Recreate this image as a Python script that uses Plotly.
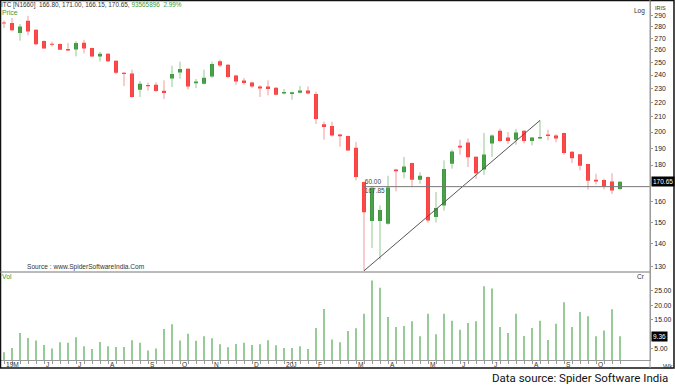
import math
import plotly.graph_objects as go

# ---------------- data (weekly candles, ITC, May-2019 .. Oct-2020) ----------------
opens = [283.9, 283.4, 274.5, 285.5, 277.4, 267.5, 265.3, 265.0, 260.8, 260.4,
         266.1, 261.6, 254.7, 256.9, 251.2, 241.7, 241.2, 229.0, 232.5, 232.7,
         228.3, 237.4, 242.0, 244.9, 233.7, 233.4, 238.9, 250.7, 248.0, 239.6,
         235.9, 234.4, 231.4, 231.4, 230.4, 226.3, 225.9, 226.8, 228.5, 225.9,
         205.0, 203.9, 198.5, 197.5, 190.2, 170.5, 150.5, 150.5, 149.2, 177.4,
         175.9, 181.2, 171.8, 173.3, 152.5, 158.2, 180.8, 191.5, 193.4, 184.9,
         177.4, 192.9, 200.8, 196.5, 195.2, 200.8, 194.4, 195.9, 198.5, 197.9,
         199.4, 187.8, 186.3, 180.6, 171.8, 171.6, 170.8, 166.80]
highs = [285.7, 287.9, 282.5, 290.0, 278.0, 268.1, 266.9, 265.5, 265.8, 267.5,
         268.6, 261.9, 258.5, 257.5, 251.5, 242.0, 244.1, 235.4, 234.2, 234.4,
         235.9, 247.2, 250.4, 245.1, 237.0, 244.1, 250.4, 252.0, 248.6, 240.2,
         237.7, 235.0, 232.2, 235.9, 230.7, 229.5, 227.4, 231.7, 231.4, 227.6,
         206.8, 206.8, 198.9, 197.7, 193.8, 170.7, 168.1, 158.2, 174.0, 177.8,
         184.7, 181.4, 175.9, 173.6, 165.2, 182.7, 189.1, 195.2, 196.0, 185.1,
         199.4, 198.5, 202.2, 200.0, 202.0, 201.0, 196.9, 207.6, 201.4, 198.7,
         199.6, 188.2, 186.5, 180.7, 175.0, 172.3, 175.3, 171.00]
lows = [278.9, 275.9, 267.8, 272.4, 263.9, 260.8, 263.0, 259.9, 259.1, 254.7,
        257.2, 254.5, 250.7, 250.2, 240.7, 231.7, 223.2, 223.7, 228.3, 227.4,
        222.3, 231.0, 237.2, 229.2, 230.2, 232.7, 237.7, 246.2, 237.7, 232.7,
        232.7, 230.4, 223.7, 224.9, 224.9, 225.6, 221.8, 226.3, 225.6, 205.2,
        195.2, 197.1, 190.9, 188.3, 171.4, 128.4, 138.1, 133.1, 148.8, 165.5,
        172.5, 168.0, 169.6, 149.8, 149.8, 155.6, 177.9, 186.1, 178.9, 172.2,
        174.4, 184.7, 193.8, 192.6, 192.1, 192.9, 191.7, 195.9, 194.8, 193.6,
        186.1, 181.2, 177.0, 166.4, 169.2, 166.5, 164.1, 166.15]
closes = [283.0, 276.8, 280.3, 275.9, 264.7, 261.3, 264.4, 260.2, 259.6, 265.8,
          261.3, 254.7, 256.9, 250.7, 241.7, 240.7, 223.7, 233.4, 231.5, 228.1,
          226.6, 240.7, 244.6, 231.4, 235.0, 237.9, 248.6, 247.5, 238.4, 235.1,
          234.0, 231.4, 229.9, 229.5, 225.4, 227.4, 227.1, 228.5, 226.3, 208.5,
          203.3, 197.9, 197.3, 188.5, 173.3, 154.8, 167.4, 155.9, 167.6, 176.4,
          179.2, 171.8, 173.9, 150.8, 156.9, 177.8, 188.0, 190.4, 184.5, 175.3,
          186.1, 197.9, 194.4, 194.4, 199.8, 194.4, 196.5, 196.9, 197.5, 195.9,
          187.1, 183.9, 179.6, 171.2, 170.8, 168.1, 166.0, 170.65]
# volume in crore shares
volumes = [3.86, 5.34, 10.5, 8.8, 7.9, 6.4, 5.2, 7.3, 7.1, 9.0,
           5.9, 5.0, 7.4, 5.9, 5.7, 5.7, 8.0, 7.1, 4.5, 5.2,
           11.9, 13.5, 7.9, 10.2, 7.8, 9.4, 8.7, 6.6, 5.6, 6.7,
           7.1, 6.4, 6.6, 8.0, 6.3, 5.3, 5.3, 5.9, 5.0, 12.2,
           18.8, 8.3, 7.3, 11.2, 12.1, 17.1, 28.6, 26.1, 16.0, 12.6,
           12.9, 14.5, 9.4, 17.1, 10.1, 17.1, 14.7, 11.6, 13.9, 14.5,
           26.6, 25.8, 12.6, 10.5, 17.1, 9.5, 12.2, 14.7, 8.1, 13.7,
           21.1, 12.6, 17.7, 16.3, 9.4, 11.4, 18.7, 9.36]

month_labels = ["19M", "J", "J", "A", "S", "O", "N", "D", "20J", "F",
                "M", "A", "M", "J", "J", "A", "S", "O"]
month_bars = [0, 5, 9, 13, 18, 22, 26, 31, 35, 39, 44, 48, 53, 57, 61, 66, 70, 74]

price_ticks = [130, 140, 150, 160, 180, 190, 200, 210, 220, 230, 240, 250, 260, 270, 280, 290]
vol_ticks = [5, 15, 20, 25]

trend_from, trend_to = 45, 67       # trendline: low of bar 45 -> high of bar 67
hline_level, hline_from = 168.0, 44.9
line_labels = ["60.00", "167.85"]
line_label_prices = [170.5, 165.7]
header_volume = "93565896"
header_change = "2.99%"

# ---------------- geometry helpers (plot area 650 x 360 px) ----------------
PW, PH = 650.0, 360.0
def px(xp):
    return xp / PW
def py(yp):
    return (PH - yp) / PH

RED = "#FF0000"
GREEN = "#007A00"
RED_WICK = "#EE9A9A"
GREEN_WICK = "#93C893"
VOL_C = "#96CA96"
FONT = "Liberation Sans, Arial"

n = len(opens)
idx = list(range(n))

fig = go.Figure()

# volume
fig.add_trace(go.Bar(x=idx, y=volumes, width=0.2, marker=dict(color=VOL_C, line=dict(width=0)),
                     xaxis="x", yaxis="y2", hoverinfo="skip"))

# labels beneath candles
fig.add_trace(go.Scatter(x=[hline_from + 0.2, hline_from + 0.2], y=line_label_prices, mode="text",
                         text=line_labels, textposition="middle right",
                         textfont=dict(size=6.5, color="#444", family=FONT),
                         xaxis="x", yaxis="y", hoverinfo="skip"))

# wicks
for up, col in ((False, RED_WICK), (True, GREEN_WICK)):
    xs, ys = [], []
    for i in idx:
        if (closes[i] >= opens[i]) == up:
            xs += [i, i, None]
            ys += [lows[i], highs[i], None]
    fig.add_trace(go.Scatter(x=xs, y=ys, mode="lines", line=dict(color=col, width=1),
                             xaxis="x", yaxis="y", hoverinfo="skip"))

# candle bodies
fig.add_trace(go.Candlestick(x=idx, open=opens, high=highs, low=lows, close=closes,
                             increasing=dict(line=dict(color=GREEN, width=0), fillcolor=GREEN),
                             decreasing=dict(line=dict(color=RED, width=0), fillcolor=RED),
                             whiskerwidth=0, xaxis="x", yaxis="y", hoverinfo="skip"))

# trendline and horizontal line
fig.add_trace(go.Scatter(x=[trend_from, trend_to], y=[lows[trend_from], highs[trend_to]],
                         mode="lines", line=dict(color="#555", width=1), xaxis="x", yaxis="y",
                         hoverinfo="skip"))
fig.add_trace(go.Scatter(x=[hline_from, 80.75], y=[hline_level, hline_level],
                         mode="lines", line=dict(color="#777", width=1), xaxis="x", yaxis="y",
                         hoverinfo="skip"))

ann = []
def txt(x, y, s, size=7.5, color="#222", xanchor="left", family=FONT, **kw):
    ann.append(dict(xref="paper", yref="paper", x=px(x), y=py(y), text=s, showarrow=False,
                    xanchor=xanchor, yanchor="middle", font=dict(size=size, color=color, family=family), **kw))

header = ("ITC [N1660]  %.2f, %.2f, %.2f, %.2f, <span style='color:#3C9A3C'>%s  %s</span>"
          % (opens[-1], highs[-1], lows[-1], closes[-1], header_volume, header_change))
txt(-1, 5, header, size=6.4, color="#333")
txt(0, 13, "Price", size=6.8, color="#3C9A3C")
txt(25, 267, "Source : www.SpiderSoftwareIndia.Com", size=6.6, color="#333")
txt(0, 276, "Vol", size=6.8, color="#3C9A3C")
txt(647, 276, "Cr", size=6.5, color="#333", xanchor="right")
txt(647, 11, "Log", size=6.5, color="#333", xanchor="right")
txt(653, 8, "IRIS", size=5.5, color="#333")
txt(661, 366, "Wk", size=6.5, color="#333")
txt(670, 378, "Data source: Spider Software India", size=11.5, color="#111", xanchor="right",
    family="Roboto, Arial")

for lab, b in zip(month_labels, month_bars):
    ann.append(dict(xref="x", yref="paper", x=b, y=py(364.3), text=lab, showarrow=False,
                    xanchor="left", yanchor="middle", font=dict(size=6.6, color="#333", family=FONT)))

# last value boxes
ann.append(dict(xref="paper", yref="y", x=px(650.5), y=math.log10(closes[-1]),
                text="%.2f" % closes[-1], showarrow=False, xanchor="left", yanchor="middle",
                bgcolor="#000", borderpad=1, font=dict(size=6.5, color="#fff", family=FONT)))
ann.append(dict(xref="paper", yref="y2", x=px(650.5), y=volumes[-1],
                text="%.2f" % volumes[-1], showarrow=False, xanchor="left", yanchor="middle",
                bgcolor="#000", borderpad=1, font=dict(size=6.5, color="#fff", family=FONT)))

shapes = [
    dict(type="rect", xref="paper", yref="paper", x0=px(0.5), x1=px(674), y0=py(0.5), y1=py(368),
         line=dict(color="#111", width=1.5), fillcolor="rgba(0,0,0,0)", layer="above"),
    dict(type="line", xref="paper", yref="paper", x0=px(0), x1=px(650), y0=py(272), y1=py(272),
         line=dict(color="#777", width=1)),
    dict(type="line", xref="paper", yref="paper", x0=px(650), x1=px(650), y0=py(0), y1=py(368),
         line=dict(color="#999", width=1)),
]

fig.update_layout(
    width=675, height=387,
    margin=dict(l=0, r=25, t=0, b=27),
    paper_bgcolor="#fff", plot_bgcolor="#fff",
    showlegend=False, boxgap=0.375,
    annotations=ann, shapes=shapes,
    xaxis=dict(range=[-0.5, 80.75], anchor="y2", showgrid=False, zeroline=False,
               showline=True, linecolor="#999", linewidth=1, ticks="outside", ticklen=3,
               tickcolor="#999", tickvals=idx, showticklabels=False,
               rangeslider=dict(visible=False), fixedrange=True),
    yaxis=dict(domain=[py(272), 1], type="log",
               range=[math.log10(127.9), math.log10(305.0)], side="right", anchor="x",
               showgrid=False, zeroline=False, showline=True, linecolor="#999", linewidth=1,
               ticks="outside", ticklen=2, tickcolor="#999", tickvals=price_ticks,
               ticktext=[str(v) for v in price_ticks], tickfont=dict(size=6.8, color="#222", family=FONT),
               fixedrange=True),
    yaxis2=dict(domain=[0, py(272)], range=[1.2, 31.5], side="right", anchor="x",
                showgrid=False, zeroline=False, showline=True, linecolor="#999", linewidth=1,
                ticks="outside", ticklen=2, tickcolor="#999", tickvals=vol_ticks,
                ticktext=["%.2f" % v for v in vol_ticks], tickfont=dict(size=6.8, color="#222", family=FONT),
                fixedrange=True),
)

fig.write_html("out.html", config={"displayModeBar": False},
               post_script="document.body.style.margin='0';document.body.style.overflow='hidden';")
